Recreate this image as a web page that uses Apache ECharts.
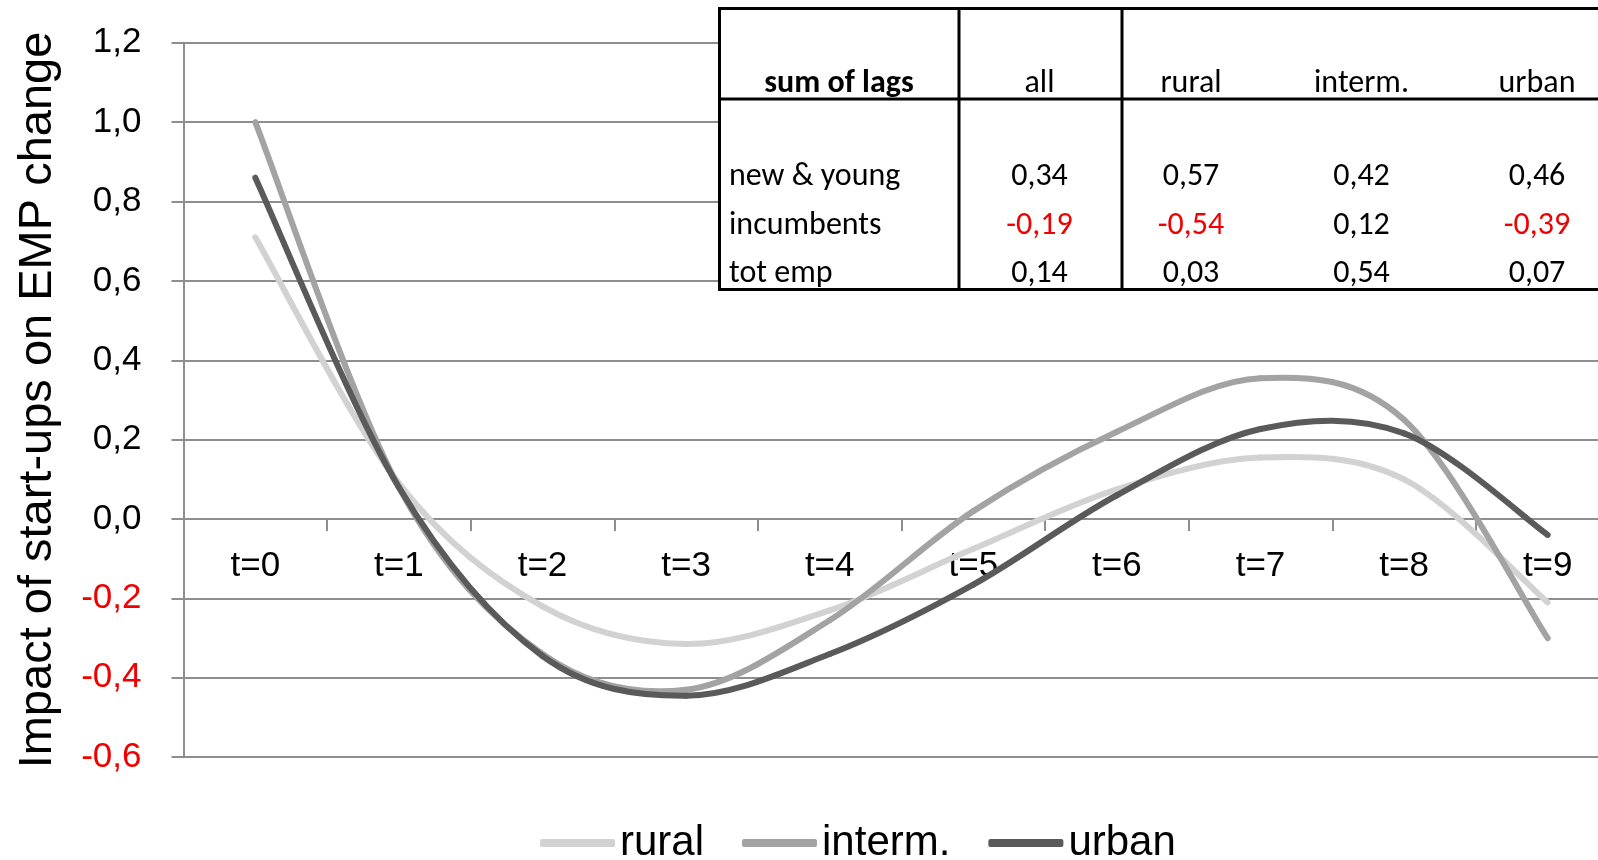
<!DOCTYPE html>
<html>
<head>
<meta charset="utf-8">
<script src="https://cdn.jsdelivr.net/npm/echarts@6/dist/echarts.min.js"></script>
<style>
html,body{margin:0;padding:0;background:#fff;}
#chart{width:1598px;height:860px;}
</style>
</head>
<body>
<div id="chart"></div>
<script>
// ---- data ----
const categories = ['t=0','t=1','t=2','t=3','t=4','t=5','t=6','t=7','t=8','t=9'];
const rural  = [0.71, 0.09, -0.22, -0.315, -0.23, -0.075, 0.075, 0.155, 0.10, -0.21];
const interm = [1.00, 0.08, -0.34, -0.43, -0.255, 0.02, 0.22, 0.355, 0.25, -0.30];
const urban  = [0.86, 0.08, -0.345, -0.445, -0.34, -0.165, 0.06, 0.227, 0.216, -0.04];
const seriesNames = ['rural', 'interm.', 'urban'];

const yMin = -0.6, yMax = 1.2, yStep = 0.2;

const tableTitle = 'sum of lags';
const tableCols = ['all', 'rural', 'interm.', 'urban'];
const tableRows = ['new & young', 'incumbents', 'tot emp'];
const newYoung   = [0.34, 0.57, 0.42, 0.46];
const incumbents = [-0.19, -0.54, 0.12, -0.39];
const totEmp     = [0.14, 0.03, 0.54, 0.07];

// ---- chart ----
const FONT = '"Liberation Sans", Arial, sans-serif';
const TFONT = 'Carlito, Calibri, Lato, "Open Sans", sans-serif';
const RED = '#f00000';
const GRID_C = '#8e8e8e';
const TSIZE = 32;

function fmt(v, d) {
  if (Math.abs(v) < 1e-9) v = 0;
  return v.toFixed(d).replace('.', ',');
}

const chart = echarts.init(document.getElementById('chart'));

const GRID = { left: 183.5, top: 42.8, width: 1436, height: 714.4 };
const zeroOffset = -(0 - yMin) / (yMax - yMin) * GRID.height;

// table layout
const T = { left: 719.5, top: 8.5, bottom: 289.5, headSep: 99, col1: 959, col2: 1122, rowLabelX: 729 };
const colX = [1039.5, 1191, 1361.5, 1537];
const rowY = [177, 226, 274];
const headY = 84;
const tableValues = [newYoung, incumbents, totEmp];

function txt(x, y, s, color, align, bold) {
  return { type: 'text', z: 102, x: x, y: y,
    style: { text: s, fill: color, fontSize: TSIZE, fontWeight: bold ? 'bold' : 'normal', fontFamily: TFONT,
      align: align, verticalAlign: 'middle', textAlign: align, textVerticalAlign: 'middle' } };
}

const graphics = [];
graphics.push({ type: 'rect', z: 100, shape: { x: T.left, y: T.top, width: 1598 - T.left + 20, height: T.bottom - T.top },
  style: { fill: '#fff', stroke: '#000', lineWidth: 3 } });
graphics.push({ type: 'line', z: 101, shape: { x1: T.left, y1: T.headSep, x2: 1620, y2: T.headSep }, style: { stroke: '#000', lineWidth: 3 } });
graphics.push({ type: 'line', z: 101, shape: { x1: T.col1, y1: T.top, x2: T.col1, y2: T.bottom }, style: { stroke: '#000', lineWidth: 3 } });
graphics.push({ type: 'line', z: 101, shape: { x1: T.col2, y1: T.top, x2: T.col2, y2: T.bottom }, style: { stroke: '#000', lineWidth: 3 } });
graphics.push(txt(839, headY, tableTitle, '#000', 'center', true));
tableCols.forEach(function (c, i) { graphics.push(txt(colX[i], headY, c, '#000', 'center', false)); });
tableRows.forEach(function (r, j) {
  graphics.push(txt(T.rowLabelX, rowY[j], r, '#000', 'left', false));
  tableValues[j].forEach(function (v, i) {
    graphics.push(txt(colX[i], rowY[j], fmt(v, 2), v < 0 ? RED : '#000', 'center', false));
  });
});

// Smoothed line (Catmull-Rom style, like spreadsheet "smoothed line"), drawn segment by segment
function smoothSeries(name, values, color) {
  return {
    name: name, type: 'custom', coordinateSystem: 'cartesian2d',
    data: values.map(function (v, i) { return [i, v]; }),
    encode: { x: 0, y: 1 },
    itemStyle: { color: color },
    clip: false,
    renderItem: function (params, api) {
      const i = params.dataIndexInside;
      const n = params.dataInsideLength;
      if (i >= n - 1) return { type: 'group', children: [] };
      const pt = function (k) { return api.coord([api.value(0, k), api.value(1, k)]); };
      const p0 = pt(Math.max(i - 1, 0)), p1 = pt(i), p2 = pt(i + 1), p3 = pt(Math.min(i + 2, n - 1));
      return {
        type: 'bezierCurve',
        shape: {
          x1: p1[0], y1: p1[1],
          cpx1: p1[0] + (p2[0] - p0[0]) / 6, cpy1: p1[1] + (p2[1] - p0[1]) / 6,
          cpx2: p2[0] - (p3[0] - p1[0]) / 6, cpy2: p2[1] - (p3[1] - p1[1]) / 6,
          x2: p2[0], y2: p2[1]
        },
        style: { stroke: color, fill: 'none', lineWidth: 6, lineCap: 'round', lineJoin: 'round' }
      };
    },
    emphasis: { disabled: true }
  };
}

const option = {
  animation: false,
  backgroundColor: '#fff',
  textStyle: { fontFamily: FONT },
  tooltip: { show: false },
  grid: { left: GRID.left, top: GRID.top, width: GRID.width, height: GRID.height, containLabel: false, outerBoundsMode: 'none' },
  legend: {
    data: seriesNames, left: 540, top: 822, padding: 0,
    icon: 'roundRect', itemWidth: 75, itemHeight: 8, itemGap: 38,
    textStyle: { fontSize: 42, color: '#000', fontFamily: FONT }
  },
  xAxis: {
    type: 'category', data: categories, boundaryGap: true,
    position: 'bottom', offset: zeroOffset,
    axisLine: { show: true, onZero: false, lineStyle: { color: GRID_C, width: 2 } },
    axisTick: { show: true, length: 12, alignWithLabel: false, lineStyle: { color: GRID_C, width: 2 } },
    axisLabel: { fontSize: 35, color: '#000', margin: 30, fontFamily: FONT, interval: 0 },
    splitLine: { show: false }
  },
  yAxis: {
    type: 'value', min: yMin, max: yMax, interval: yStep,
    name: 'Impact of start-ups on EMP change', nameLocation: 'middle', nameRotate: 90, nameGap: 122,
    nameTextStyle: { fontSize: 47, color: '#000', fontFamily: FONT },
    axisLine: { show: true, lineStyle: { color: GRID_C, width: 2 } },
    axisTick: { show: true, length: 12, lineStyle: { color: GRID_C, width: 2 } },
    axisLabel: {
      fontSize: 35, color: '#000', margin: 42, fontFamily: FONT,
      formatter: function (v) {
        const s = fmt(v, 1);
        return (v < -1e-9) ? '{r|' + s + '}' : s;
      },
      rich: { r: { color: RED, fontSize: 35, fontFamily: FONT } }
    },
    splitLine: { show: true, lineStyle: { color: GRID_C, width: 2 } }
  },
  series: [
    smoothSeries(seriesNames[0], rural, '#d2d2d2'),
    smoothSeries(seriesNames[1], interm, '#a3a3a3'),
    smoothSeries(seriesNames[2], urban, '#5a5a5a')
  ],
  graphic: graphics
};
chart.setOption(option);
</script>
</body>
</html>
